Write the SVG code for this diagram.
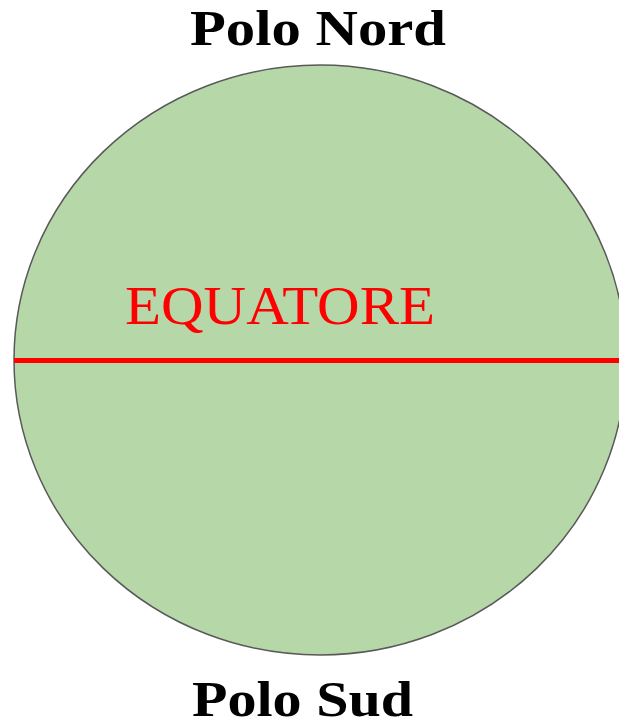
<svg xmlns="http://www.w3.org/2000/svg" width="619" height="727" viewBox="0 0 619 727">
<style>
.lbl{font-family:"Liberation Serif","Times New Roman",serif;font-weight:bold;font-size:50px;fill:#000}
.eq{font-family:"Liberation Serif","Times New Roman",serif;font-size:54px;fill:#ff0000}
</style>
<rect width="619" height="727" fill="#fff"/>
<g id="globe">
<ellipse cx="320" cy="360" rx="306" ry="295" fill="#b6d7a8" stroke="#595959" stroke-width="1.5"/>
</g>
<g id="connectors">
<line x1="14" y1="360.5" x2="619" y2="360.5" stroke="#ff0000" stroke-width="5"/>
</g>
<g id="equatore"><text class="eq" x="125" y="324" textLength="310" lengthAdjust="spacingAndGlyphs">EQUATORE</text></g>
<g id="polo-nord"><text class="lbl" x="190" y="45" textLength="256" lengthAdjust="spacingAndGlyphs">Polo Nord</text></g>
<g id="polo-sud"><text class="lbl" x="192" y="716" textLength="221" lengthAdjust="spacingAndGlyphs">Polo Sud</text></g>
</svg>
